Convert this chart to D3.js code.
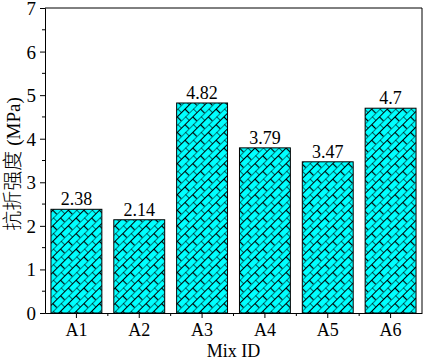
<!DOCTYPE html>
<html>
<head>
<meta charset="utf-8">
<script src="https://cdn.jsdelivr.net/npm/d3@7"></script>
<style>
  body { margin: 0; background: #fff; }
</style>
</head>
<body>
<div id="chart"></div>
<script>
// data
const mixIds = ["A1", "A2", "A3", "A4", "A5", "A6"];
const strength = [2.38, 2.14, 4.82, 3.79, 3.47, 4.7];
const strengthLabels = ["2.38", "2.14", "4.82", "3.79", "3.47", "4.7"];
const yTicks = [0, 1, 2, 3, 4, 5, 6, 7];

const serif = "'Liberation Serif'";

const margin = {top: 8, right: 5, bottom: 48, left: 45},
  width = 427 - margin.left - margin.right,
  height = 361 - margin.top - margin.bottom;

const svg = d3.select("#chart")
  .append("svg")
  .attr("width", 427)
  .attr("height", 361);

// brick pattern, turned 45 degrees
const defs = svg.append("defs");
const pat = defs.append("pattern")
  .attr("id", "brick")
  .attr("patternUnits", "userSpaceOnUse")
  .attr("width", 11)
  .attr("height", 11)
  .attr("patternTransform", "rotate(-45)");
pat.append("rect").attr("width", 11).attr("height", 11).attr("fill", "#00ffff");
pat.append("path")
  .attr("d", "M0,0H11M0,5.5H11M0,0V5.5M5.5,5.5V11")
  .attr("stroke", "#000")
  .attr("stroke-width", 1.2)
  .attr("fill", "none");

const g = svg.append("g")
  .attr("transform", `translate(${margin.left}, ${margin.top})`);

const x = d3.scaleBand()
  .domain(mixIds)
  .range([0, width])
  .paddingInner(0.19)
  .paddingOuter(0.095);

const y = d3.scaleLinear()
  .domain([0, 7])
  .range([height, 0]);

// bars
g.selectAll(".bar")
  .data(mixIds)
  .join("rect")
  .attr("class", "bar")
  .attr("x", d => x(d))
  .attr("y", (d, i) => y(strength[i]))
  .attr("width", x.bandwidth())
  .attr("height", (d, i) => height - y(strength[i]))
  .attr("fill", "url(#brick)")
  .attr("stroke", "#000")
  .attr("stroke-width", 1);

// value labels
g.selectAll(".val")
  .data(mixIds)
  .join("text")
  .attr("class", "val")
  .attr("x", d => x(d) + x.bandwidth() / 2)
  .attr("y", (d, i) => y(strength[i]) - 4)
  .attr("text-anchor", "middle")
  .style("font-family", serif)
  .style("font-size", "18px")
  .text((d, i) => strengthLabels[i]);

// frame (top and right)
g.append("path")
  .attr("d", `M0,0H${width}V${height}`)
  .attr("fill", "none")
  .attr("stroke", "#000")
  .attr("stroke-width", 1);

// Y axis
const yAxis = g.append("g")
  .call(d3.axisLeft(y).tickValues(yTicks).tickSize(5).tickPadding(4).tickFormat(d3.format("d")));
yAxis.attr("font-family", serif).attr("font-size", 19);
yAxis.selectAll("text").attr("dy", "0.34em");
yAxis.append("g").selectAll("line")
  .data(d3.range(0.5, 7, 1))
  .join("line")
  .attr("x1", 0).attr("x2", -3)
  .attr("y1", d => y(d)).attr("y2", d => y(d))
  .attr("stroke", "#000");

// X axis
const xAxis = g.append("g")
  .attr("transform", `translate(0, ${height})`)
  .call(d3.axisBottom(x).tickSize(5).tickPadding(5).tickSizeOuter(0));
xAxis.attr("font-family", serif).attr("font-size", 18);
xAxis.append("g").selectAll("line")
  .data(mixIds.slice(1))
  .join("line")
  .attr("x1", d => x(d) - x.step() * x.paddingInner() / 2)
  .attr("x2", d => x(d) - x.step() * x.paddingInner() / 2)
  .attr("y1", 0).attr("y2", 3)
  .attr("stroke", "#000");
g.selectAll(".domain").attr("stroke", "#000");

// axis titles
svg.append("text")
  .attr("x", margin.left + width / 2)
  .attr("y", 357)
  .attr("text-anchor", "middle")
  .style("font-family", serif)
  .style("font-size", "18px")
  .text("Mix ID");

const yt = svg.append("text")
  .attr("transform", "translate(20, 164) rotate(-90)")
  .attr("text-anchor", "middle")
  .style("font-family", serif)
  .style("font-size", "19px");
yt.append("tspan")
  .style("font-family", "'Noto Sans CJK SC'")
  .style("font-size", "20px")
  .style("font-weight", 300)
  .text("抗折强度");
yt.append("tspan").attr("dx", 5).text("(MPa)");
</script>
</body>
</html>
